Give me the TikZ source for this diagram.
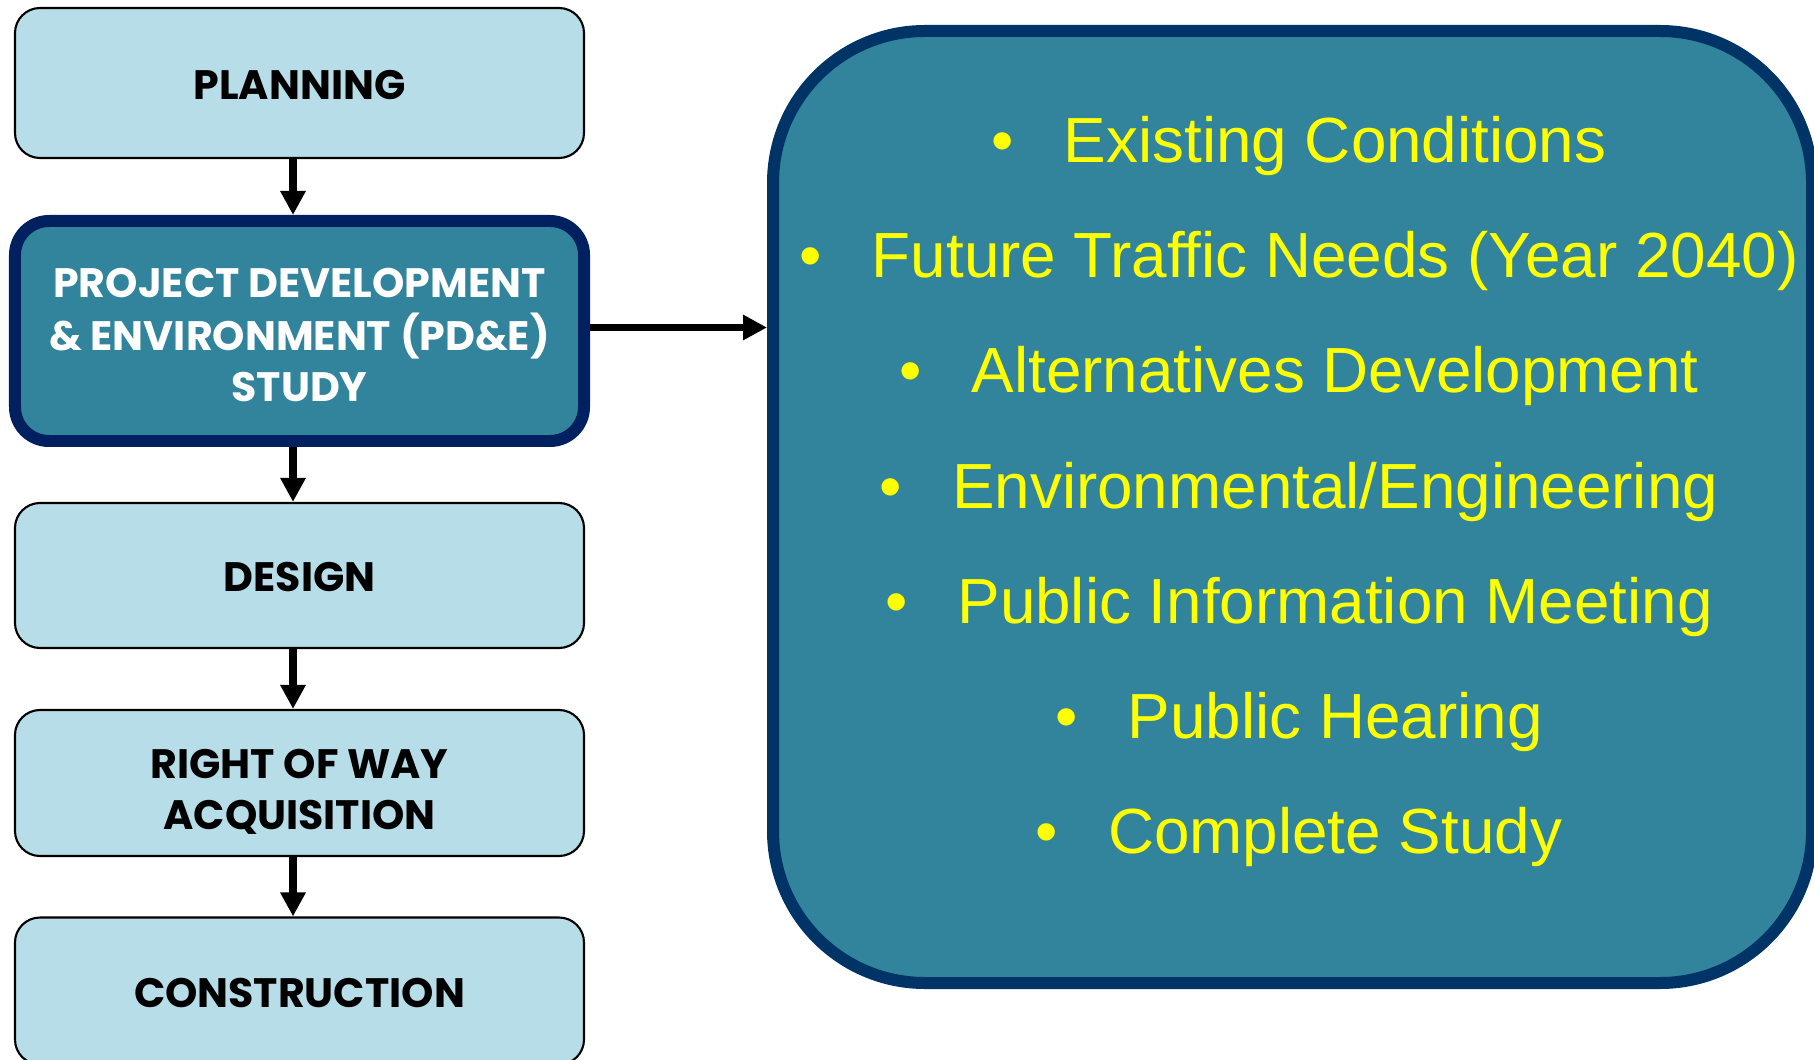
\documentclass[tikz,border=0pt]{standalone}
\usepackage{fontspec}
\usepackage{xcolor}
\usepackage{tikz}
\usetikzlibrary{arrows.meta,positioning}
\newfontfamily\stagefont{Poppins}
\newfontfamily\listfont{Liberation Sans}
\definecolor{stagefill}{HTML}{B7DEE8}
\definecolor{studyfill}{HTML}{31849B}
\definecolor{studyline}{HTML}{002060}
\definecolor{taskline}{HTML}{003366}
\definecolor{tasktext}{HTML}{FFFF00}
% stage text, lowered a little inside its box
\newcommand{\stagelines}[2][0.06cm]{%
  \raisebox{-#1}[\height][\depth]{\begin{tabular}{@{}c@{}}#2\end{tabular}}}

\begin{document}
\begin{tikzpicture}[
  stage/.style={draw=black,line width=0.6pt,rounded corners=0.25cm,fill=stagefill,
    minimum width=5.69cm,minimum height=1.46cm,align=center,
    font=\stagefont\bfseries\fontsize{11.7pt}{14.5pt}\selectfont},
  flow/.style={-{Triangle[length=0.24cm,width=0.24cm]},line width=2pt},
  task/.style={anchor=base,inner sep=0pt,text=tasktext,
    font=\listfont\fontsize{18.15pt}{21pt}\selectfont}]
  \useasboundingbox (0,0) rectangle (18.14,10.59);
  \clip (0,0) rectangle (18.14,10.59);
  % Stages of the project
  \node[stage,minimum height=1.50cm] (plan) at (2.995,9.76) {\stagelines[0.065cm]{PLANNING}};
  \node[stage,draw=studyline,line width=0.12cm,fill=studyfill,text=white,
    rounded corners=0.34cm,minimum height=2.20cm] (pde) at (2.995,7.28)
    {\stagelines[0.08cm]{PROJECT DEVELOPMENT\\\& ENVIRONMENT (PD\&E)\\STUDY}};
  \node[stage,minimum height=1.45cm] (design) at (2.995,4.835) {\stagelines{DESIGN}};
  \node[stage] (row) at (2.995,2.76) {\stagelines[0.11cm]{RIGHT OF WAY\\ACQUISITION}};
  \node[stage,minimum height=1.47cm] (build) at (2.995,0.68) {\stagelines{CONSTRUCTION}};
  % Arrows between stages
  \foreach \a/\b in {plan/pde,pde/design,design/row,row/build}
    \draw[flow] ([xshift=-0.065cm]\a.south) -- ([xshift=-0.065cm]\b.north);
  % What the study covers
  \node[draw=taskline,line width=0.12cm,fill=studyfill,rounded corners=1.52cm,
    minimum width=10.39cm,minimum height=9.52cm] (tasks) at (12.925,5.52) {};
  \draw[flow] ([yshift=0.035cm]pde.east) -- ([yshift=0.035cm]pde.east -| tasks.west);
  \foreach \txt [count=\i] in {Existing Conditions,Future Traffic Needs (Year 2040),
      Alternatives Development,Environmental/Engineering,Public Information Meeting,
      Public Hearing,Complete Study}
    \node[task] (task\i) at (12.99,10.116-1.152*\i) {\textbullet\hspace{0.5cm}\txt};
\end{tikzpicture}
\end{document}
